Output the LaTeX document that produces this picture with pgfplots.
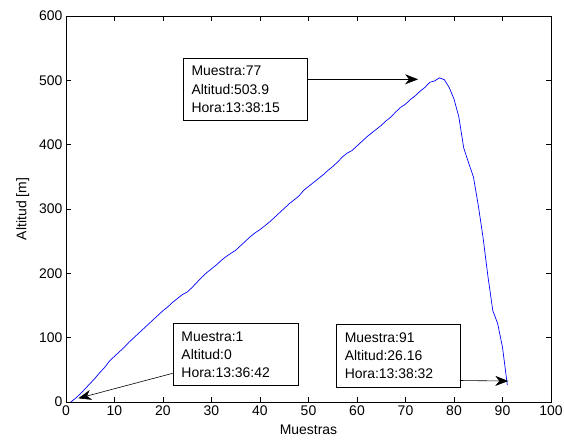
\documentclass[border=0pt]{standalone}
\usepackage{fontspec}
\setmainfont{Liberation Sans}
\usepackage{pgfplots}
\pgfplotsset{compat=1.18}
\usetikzlibrary{arrows.meta}
\newcommand{\annfont}{\fontsize{14}{18.3}\selectfont}
\begin{document}
\begin{tikzpicture}
\begin{axis}[
  scale only axis, width=485bp, height=386bp,
  xmin=0, xmax=100, ymin=0, ymax=600,
  xtick={0,10,...,100}, ytick={0,100,...,600},
  tick align=inside, major tick length=5bp,
  axis line style={line width=0.8pt},
  tick style={black, line width=0.6pt},
  /pgf/number format/assume math mode=true,
  tick label style={font=\fontsize{14}{16}\selectfont},
  label style={font=\fontsize{14}{16}\selectfont},
  xlabel={Muestras}, ylabel={Altitud [m]},
  xlabel style={yshift=-3bp},
  ylabel style={yshift=3bp},
  clip=false,
]
\addplot[blue, line width=0.7pt] coordinates {
(1,0) (2,6) (3,13) (4,21) (5,29) (6,37) (7,46) (8,54) (9,64) (10,71)
(11,78) (12,85) (13,93) (14,100) (15,107) (16,114) (17,121) (18,128) (19,135) (20,142)
(21,148) (22,155) (23,161) (24,167) (25,171) (26,178) (27,186) (28,194) (29,201) (30,207)
(31,213) (32,220) (33,226) (34,231) (35,236) (36,243) (37,250) (38,257) (39,263) (40,268)
(41,274) (42,280) (43,287) (44,294) (45,301) (46,308) (47,314) (48,320) (49,329) (50,335)
(51,341) (52,347) (53,353) (54,360) (55,366) (56,373) (57,381) (58,387) (59,391) (60,398)
(61,405) (62,412) (63,418) (64,424) (65,430) (66,437) (67,443) (68,451) (69,458) (70,463)
(71,470) (72,476) (73,483) (74,489) (75,497) (76,499) (77,503.9) (78,501) (79,489) (80,471)
(81,443) (82,395) (83,372) (84,350) (85,306) (86,255) (87,195) (88,142) (89,122) (90,85)
(91,26.16)
};
% annotation 1
\draw[fill=white, line width=0.6pt] (axis cs:24.2,437.3) rectangle (axis cs:49.75,534.3);
\node[anchor=west, align=left, inner sep=0pt, font=\annfont] at (axis cs:25.85,485.8) {Muestra:77\\Altitud:503.9\\Hora:13:38:15};
\draw[-{Stealth[length=13bp,width=10bp,inset=4bp]}, line width=0.6pt] (axis cs:49.75,501.6) -- (axis cs:72.6,501.6);
% annotation 2
\draw[fill=white, line width=0.6pt] (axis cs:22.12,25.3) rectangle (axis cs:47.9,122.3);
\node[anchor=west, align=left, inner sep=0pt, font=\annfont] at (axis cs:23.77,73.8) {Muestra:1\\Altitud:0\\Hora:13:36:42};
\draw[-{Stealth[length=13bp,width=10bp,inset=4bp]}, line width=0.6pt] (axis cs:22.0,44.6) -- (axis cs:2.54,5.75);
% annotation 3
\draw[fill=white, line width=0.6pt] (axis cs:55.8,22.9) rectangle (axis cs:81.2,120.8);
\node[anchor=west, align=left, inner sep=0pt, font=\annfont] at (axis cs:57.45,71.85) {Muestra:91\\Altitud:26.16\\Hora:13:38:32};
\draw[-{Stealth[length=13bp,width=10bp,inset=4bp]}, line width=0.6pt] (axis cs:81.2,33.4) -- (axis cs:91.2,32.6);
\end{axis}
\pgfresetboundingbox
\path (current axis.south west) ++(-66bp,-38bp) rectangle ++(564bp,440bp);
\end{tikzpicture}
\end{document}
